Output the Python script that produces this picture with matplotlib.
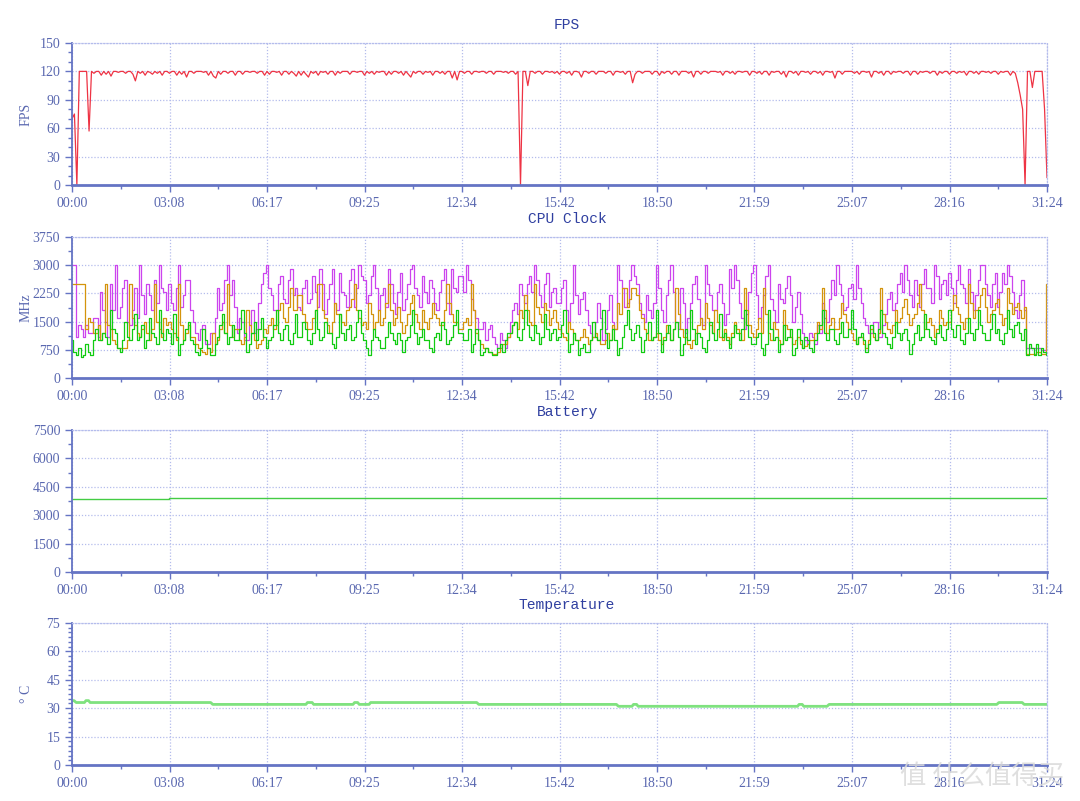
import numpy as np
import matplotlib
matplotlib.use("Agg")
from matplotlib import pyplot as plt
from matplotlib.ticker import MultipleLocator, FixedLocator

# time axis labels (seconds -> mm:ss), run length 31:24
total_s = 1884
tick_labels = ["00:00", "03:08", "06:17", "09:25", "12:34", "15:42",
               "18:50", "21:59", "25:07", "28:16", "31:24"]

# FPS, one sample every 4.71 s (40 per tick interval)
fps = [
    70, 75, 0, 120, 120, 120, 120, 57, 120, 118, 120, 120, 116, 120, 117, 120, 115, 120, 120, 119,
    120, 120, 118, 120, 120, 117, 110, 120, 118, 120, 116, 120, 119, 117, 120, 118, 120, 116, 120, 120,
    118, 120, 120, 116, 120, 117, 120, 114, 120, 120, 118, 120, 120, 120, 119, 120, 116, 120, 115, 113,
    120, 117, 120, 120, 118, 120, 120, 116, 120, 120, 117, 120, 120, 119, 120, 120, 118, 120, 120, 116,
    120, 117, 120, 120, 119, 120, 116, 120, 120, 117, 120, 118, 115, 120, 116, 120, 117, 114, 120, 118,
    120, 116, 120, 119, 120, 117, 120, 120, 116, 120, 118, 120, 120, 120, 117, 120, 120, 119, 120, 120,
    116, 120, 118, 120, 117, 120, 119, 120, 120, 116, 120, 117, 120, 120, 118, 120, 116, 120, 117, 114,
    120, 118, 120, 120, 117, 120, 119, 120, 116, 120, 120, 118, 120, 117, 120, 120, 113, 120, 111, 120,
    120, 118, 120, 120, 117, 120, 120, 119, 120, 120, 118, 120, 120, 117, 120, 120, 120, 119, 120, 118,
    120, 120, 117, 120, 0, 120, 120, 105, 120, 120, 118, 120, 120, 117, 120, 120, 119, 120, 118, 120,
    117, 120, 120, 118, 120, 116, 120, 120, 119, 114, 120, 120, 118, 120, 120, 117, 120, 120, 120, 118,
    120, 120, 116, 120, 120, 119, 120, 117, 120, 120, 108, 117, 120, 120, 118, 120, 120, 120, 117, 120,
    120, 116, 120, 118, 120, 120, 117, 120, 120, 116, 120, 120, 120, 118, 120, 114, 120, 120, 117, 120,
    120, 118, 120, 120, 120, 119, 120, 116, 120, 120, 118, 120, 117, 120, 120, 119, 120, 120, 116, 120,
    120, 118, 120, 117, 120, 120, 116, 120, 119, 120, 120, 117, 120, 114, 120, 120, 118, 120, 116, 120,
    120, 119, 120, 117, 120, 120, 118, 120, 116, 120, 120, 119, 120, 113, 120, 120, 117, 120, 120, 120,
    120, 118, 120, 117, 120, 120, 119, 120, 114, 120, 120, 118, 120, 116, 120, 120, 117, 120, 119, 120,
    120, 118, 120, 120, 116, 120, 120, 117, 120, 119, 120, 120, 118, 120, 120, 116, 120, 118, 120, 120,
    117, 120, 120, 118, 120, 119, 120, 116, 120, 120, 118, 120, 117, 120, 120, 119, 120, 118, 120, 120,
    117, 120, 119, 120, 120, 116, 120, 118, 108, 95, 80, 0, 120, 120, 103, 120, 120, 120, 120, 80,
    8,
]

# CPU clock (MHz), one sample every 4.71 s (40 per tick interval)
cpu_big = [
    3000, 3000, 1100, 1400, 1300, 1100, 1400, 1200, 1200, 1600, 1600, 1100, 2300, 1800, 1500, 1100, 2500, 1800, 3000, 1600,
    1900, 2400, 2600, 1500, 1400, 1800, 2400, 1600, 3000, 2200, 1700, 2500, 2200, 1800, 2600, 2000, 3000, 2400, 2300, 1800,
    2500, 2000, 1800, 2400, 3000, 1900, 2200, 2600, 2600, 1800, 1500, 1200, 1000, 1300, 1400, 900, 900, 1200, 1200, 1600,
    2400, 1800, 2000, 2600, 3000, 2200, 2600, 1900, 1200, 1600, 1500, 1000, 1000, 1400, 1800, 1200, 1300, 2000, 2500, 2800,
    3000, 2400, 2200, 1800, 1800, 2500, 2700, 2100, 2000, 2600, 2900, 2200, 2400, 1900, 1800, 2400, 2600, 2000, 2100, 2700,
    2300, 1900, 2900, 2500, 1700, 2100, 2500, 2900, 2000, 1800, 2800, 2300, 2200, 1900, 2600, 2900, 1900, 2400, 3000, 2700,
    2600, 2000, 2200, 2700, 3000, 2400, 1800, 2200, 2400, 1900, 2900, 2500, 2000, 1700, 2300, 2800, 1800, 2100, 2500, 2900,
    3000, 2400, 2200, 1900, 2700, 2300, 2000, 2600, 2400, 2000, 1800, 2300, 2600, 2900, 2000, 1700, 2900, 2400, 2300, 2700,
    2700, 2300, 3000, 2600, 2100, 1800, 1600, 1300, 1300, 1500, 1000, 1300, 1400, 1100, 900, 800, 1200, 1000, 800, 1100,
    1500, 1800, 2000, 1700, 2500, 2200, 2000, 2500, 2700, 2300, 3000, 2600, 2200, 1900, 2500, 2800, 1900, 2300, 2400, 2000,
    2000, 2400, 2600, 1800, 1500, 2000, 3000, 2200, 1700, 2100, 2300, 1800, 1400, 1200, 1100, 1500, 2000, 1600, 1000, 1300,
    1800, 2200, 1500, 1300, 3000, 2600, 2400, 1900, 2000, 2600, 3000, 2700, 2500, 2000, 1700, 1500, 2200, 1800, 1600, 2000,
    3000, 2400, 1800, 1500, 2200, 2600, 3000, 2300, 1500, 1300, 2400, 2000, 1200, 1600, 2000, 2500, 2700, 2100, 1600, 1400,
    3000, 2500, 2200, 1800, 1800, 2300, 2500, 2000, 1400, 1700, 2900, 2400, 3000, 2600, 2000, 1600, 1300, 1700, 2300, 2800,
    3000, 2200, 1600, 1900, 2200, 2700, 3000, 2100, 1800, 1500, 2500, 2100, 2000, 2400, 2700, 2200, 1500, 1900, 2300, 1700,
    1200, 1000, 900, 1200, 1100, 900, 1400, 1200, 2000, 1600, 1500, 2100, 2600, 2200, 3000, 2500, 2200, 1800, 1900, 2400,
    2500, 2100, 3000, 2400, 2000, 1600, 1400, 1200, 1200, 1500, 1500, 1100, 1100, 1400, 1700, 2100, 2300, 1800, 2000, 2500,
    2800, 2300, 3000, 2600, 2200, 1900, 2600, 2200, 1900, 2500, 2900, 2400, 2400, 2000, 3000, 2700, 2100, 2500, 2600, 2200,
    2800, 2400, 2000, 2600, 3000, 2500, 2400, 2000, 2900, 2300, 1800, 2200, 2600, 3000, 3000, 2500, 2200, 1900, 2500, 2800,
    1900, 2300, 2800, 2500, 3000, 2700, 2300, 1800, 1600, 2200, 2600, 1800, 800, 800, 800, 800, 800, 800, 750, 750,
    1600,
]
cpu_mid = [
    2500, 2500, 2500, 2500, 2500, 2500, 1300, 1600, 1500, 1200, 1200, 1400, 1000, 1200, 2500, 1400, 1300, 1000, 900, 800,
    800, 800, 800, 1000, 2500, 1600, 1400, 1200, 1100, 1300, 1500, 1200, 1000, 1300, 2500, 1500, 1300, 1100, 1600, 1400,
    1500, 1300, 1200, 1000, 2500, 1400, 1000, 1200, 1400, 1100, 1100, 900, 800, 750, 700, 650, 800, 700, 1200, 900,
    1000, 1300, 1500, 1200, 2500, 1400, 1100, 1300, 1300, 1000, 900, 1100, 1800, 1400, 1200, 1000, 800, 900, 1000, 1300,
    1200, 1400, 1600, 1300, 1400, 1800, 2000, 1600, 1500, 1900, 2400, 1800, 1800, 2200, 2200, 1700, 1500, 1300, 1300, 1600,
    1800, 2500, 2500, 1800, 1600, 1400, 1200, 1500, 2000, 1700, 1700, 1500, 1400, 1800, 1900, 2100, 2500, 1800, 1600, 1400,
    1500, 1300, 2000, 1700, 1300, 1500, 1800, 1400, 1600, 2000, 2500, 1800, 1400, 1600, 1900, 1500, 1200, 1400, 1700, 2000,
    2200, 1700, 1500, 1300, 1800, 1500, 1300, 1600, 2000, 1700, 1600, 1400, 1400, 1800, 2500, 2000, 1700, 1500, 1500, 1300,
    1300, 1500, 1600, 1400, 2500, 1800, 1200, 1000, 900, 800, 800, 700, 700, 650, 650, 700, 800, 900, 900, 1100,
    1200, 1400, 1500, 1300, 1800, 1600, 2200, 1800, 1500, 1400, 2500, 1900, 1700, 1500, 2000, 1800, 1400, 1600, 1800, 1500,
    1300, 1200, 1100, 1000, 1500, 1300, 1200, 1000, 1000, 1100, 1300, 1100, 900, 1000, 1100, 1200, 1000, 900, 900, 1000,
    1200, 1000, 1400, 1300, 2000, 1700, 2400, 2400, 1900, 2100, 2400, 2400, 2200, 1800, 1600, 1300, 1200, 1000, 1000, 1100,
    1200, 1000, 900, 1100, 1400, 1200, 1000, 1300, 2400, 1700, 1300, 1100, 1100, 900, 800, 1000, 1200, 1400, 1600, 1300,
    2000, 1600, 1400, 1200, 1800, 1500, 1100, 1000, 1300, 1100, 900, 1200, 1500, 1300, 1200, 1000, 2400, 1800, 1400, 1200,
    1100, 1300, 1600, 1200, 2400, 1700, 1200, 1000, 1500, 1300, 1000, 900, 1800, 1400, 1300, 1100, 900, 1000, 1100, 900,
    800, 850, 900, 1000, 1000, 1200, 1500, 1300, 2400, 1800, 1200, 1400, 1600, 1300, 1300, 1600, 2000, 1700, 1500, 1300,
    1200, 1000, 900, 1100, 1100, 900, 800, 1000, 1300, 1100, 1000, 1200, 2400, 1700, 1500, 1300, 1200, 1400, 1800, 1500,
    1600, 1900, 2100, 1700, 1400, 1600, 1700, 2000, 2500, 1800, 1300, 1500, 1600, 1400, 1100, 1300, 1800, 1600, 1400, 1500,
    1500, 1800, 2200, 1900, 1700, 1500, 1300, 1600, 2500, 2000, 1600, 1800, 1900, 2200, 2400, 1900, 1500, 1700, 1800, 2000,
    2100, 1700, 1400, 1600, 2400, 2000, 1700, 1900, 2000, 1800, 1600, 1900, 650, 650, 650, 650, 700, 700, 650, 650,
    2500,
]
cpu_little = [
    1000, 700, 600, 800, 550, 600, 900, 700, 600, 1000, 1300, 1000, 1000, 1200, 1100, 900, 1800, 1300, 1200, 800,
    700, 1000, 1500, 1100, 1000, 1300, 1700, 1000, 1100, 1400, 800, 1000, 1600, 1200, 1100, 900, 1800, 1200, 1000, 1300,
    1200, 900, 1700, 1100, 600, 900, 1000, 1300, 1500, 1000, 900, 700, 600, 800, 1300, 1000, 800, 600, 600, 900,
    1100, 1400, 1700, 1200, 900, 1100, 1400, 1000, 1000, 1300, 1800, 1200, 700, 900, 1200, 1500, 1000, 1300, 1600, 1100,
    800, 1000, 1100, 1400, 1800, 1200, 1000, 1300, 1400, 1000, 900, 1200, 1700, 1100, 1100, 1500, 1300, 1000, 900, 1200,
    1800, 1300, 1000, 1100, 1500, 1200, 1200, 900, 800, 1100, 1700, 1200, 1000, 1300, 1400, 1000, 1100, 1500, 1800, 1200,
    1000, 800, 600, 1000, 1300, 1100, 1000, 800, 800, 1100, 1500, 1200, 1000, 900, 1200, 1000, 700, 1000, 1100, 1400,
    1800, 1200, 900, 1100, 1300, 1000, 1000, 800, 700, 1100, 1200, 1000, 1500, 1300, 900, 1000, 1100, 1400, 1800, 1200,
    1200, 1000, 1000, 1300, 700, 900, 1300, 1000, 600, 700, 800, 700, 700, 600, 600, 800, 900, 700, 1000, 1200,
    1200, 1400, 1500, 1100, 1000, 1300, 1800, 1400, 1100, 1000, 1400, 1200, 900, 1100, 1700, 1300, 1000, 1200, 1300, 1000,
    1100, 1400, 1800, 1200, 700, 900, 1200, 1000, 600, 800, 900, 700, 700, 1000, 1500, 1100, 1000, 1300, 1800, 1200,
    800, 1000, 1300, 1000, 600, 800, 1100, 1400, 1800, 1300, 1000, 1200, 1400, 1100, 700, 1000, 1200, 1500, 1000, 1100,
    1800, 1200, 700, 1000, 1200, 1400, 1000, 1300, 1500, 1100, 600, 900, 1300, 1000, 1800, 1300, 900, 1200, 1100, 800,
    700, 1000, 1500, 1200, 1000, 1300, 1700, 1100, 1200, 1000, 800, 1100, 1400, 1200, 1000, 1300, 1800, 1400, 1100, 900,
    900, 1100, 1200, 800, 600, 900, 1800, 1300, 1000, 1100, 700, 900, 1400, 1000, 1100, 1300, 600, 800, 1300, 1000,
    800, 1100, 1000, 800, 700, 1000, 1200, 1400, 1800, 1200, 1000, 1300, 1300, 1000, 900, 1200, 1500, 1100, 1100, 1300,
    1800, 1300, 900, 1100, 1200, 1000, 700, 900, 1400, 1200, 1000, 1300, 1800, 1200, 1100, 900, 800, 1100, 1500, 1200,
    1000, 1200, 1300, 1000, 650, 900, 1200, 1400, 1000, 1100, 1700, 1300, 1100, 1000, 900, 1200, 1400, 1100, 1000, 1300,
    1800, 1300, 1100, 1400, 1400, 1000, 900, 1200, 1600, 1200, 1000, 1300, 1800, 1400, 1200, 1000, 1000, 1300, 1700, 1200,
    1300, 1000, 900, 1200, 1800, 1300, 1100, 1400, 1500, 1200, 1000, 1300, 600, 900, 800, 600, 900, 600, 800, 700,
    600,
]

# battery (mV), level changes
bat_t = [0, 30, 188, 1100, 1884]
bat_v = [3880, 3880, 3920, 3900, 3900]

# temperature (C)
temp_t = [0, 4, 8, 24, 27, 32, 35, 268, 272, 452, 455, 464, 467, 543, 546, 552, 555, 574, 577,
          782, 786, 1052, 1056, 1082, 1085, 1091, 1094, 1402, 1405, 1411, 1414, 1459, 1463,
          1787, 1791, 1836, 1840, 1884]
temp_v = [34, 34, 33, 33, 34, 34, 33, 33, 32, 32, 33, 33, 32, 32, 33, 33, 32, 32, 33,
          33, 32, 32, 31, 31, 32, 32, 31, 31, 32, 32, 31, 31, 32,
          32, 33, 33, 32, 32]

axis_col = "#6574c4"
grid_col = "#b4bcec"
text_col = "#5a68b0"
title_col = "#2f3fa0"

fig = plt.figure(figsize=(10.8, 8.01), dpi=100)
W, H = 1080, 801


def make_ax(top, bottom, ymax, ystep, yminor, title, ylabel):
    ax = fig.add_axes([72 / W, 1 - bottom / H, 975 / W, (bottom - top) / H])
    ax.set_xlim(0, total_s)
    ax.set_ylim(0, ymax)
    ax.xaxis.set_major_locator(FixedLocator(np.linspace(0, total_s, 11)))
    ax.xaxis.set_minor_locator(FixedLocator(np.linspace(0, total_s, 21)))
    ax.set_xticklabels(tick_labels)
    ax.yaxis.set_major_locator(MultipleLocator(ystep))
    ax.yaxis.set_minor_locator(MultipleLocator(yminor))
    ax.grid(True, which="major", color=grid_col, linestyle=(0, (1, 1.5)), linewidth=0.9)
    for s in ["top", "right"]:
        ax.spines[s].set_color(grid_col)
        ax.spines[s].set_linestyle((0, (1, 1.5)))
        ax.spines[s].set_linewidth(0.9)
    ax.spines["left"].set_color(axis_col)
    ax.spines["left"].set_linewidth(1.3)
    ax.spines["bottom"].set_color(axis_col)
    ax.spines["bottom"].set_linewidth(2)
    ax.tick_params(axis="both", which="major", colors=axis_col, length=5, width=1,
                   labelcolor=text_col, labelsize=10)
    ax.tick_params(axis="both", which="minor", colors=axis_col, length=3, width=1)
    for lab in ax.get_xticklabels() + ax.get_yticklabels():
        lab.set_family("Liberation Serif")
    fig.text(567 / W, 1 - (top - 18) / H, title, ha="center", va="center",
             family="Liberation Mono", fontsize=10.5, color=title_col)
    if ylabel:
        ax.set_ylabel(ylabel, family="Liberation Serif", fontsize=10, color=text_col)
        ax.yaxis.set_label_coords(-0.040, 0.5)
    return ax


ax1 = make_ax(43, 185, 150, 30, 10, "FPS", "FPS")
t_fps = np.linspace(0, total_s, len(fps))
ax1.plot(t_fps, fps, color="#ee3344", linewidth=0.9)

ax2 = make_ax(237, 378, 3750, 750, 375, "CPU Clock", "MHz")
ax2.plot(np.linspace(0, total_s, len(cpu_big)), cpu_big, color="#cc44ee",
         linewidth=0.9, drawstyle="steps-mid")
ax2.plot(np.linspace(0, total_s, len(cpu_mid)), cpu_mid, color="#d4940c",
         linewidth=0.9, drawstyle="steps-mid")
ax2.plot(np.linspace(0, total_s, len(cpu_little)), cpu_little, color="#11cc11",
         linewidth=0.9, drawstyle="steps-mid")

ax3 = make_ax(430, 572, 7500, 1500, 750, "Battery", None)
ax3.plot(bat_t, bat_v, color="#44cc44", linewidth=1, drawstyle="steps-post")

ax4 = make_ax(623, 765, 75, 15, 2.5, "Temperature", "° C")
ax4.plot(temp_t, temp_v, color="#7fe27f", linewidth=2)

# site watermark
fig.text(1064 / W, 1 - 776 / H, "值 什么值得买", ha="right", va="center",
         family=["Noto Sans CJK SC", "DejaVu Sans"], fontsize=19, color="#dadada", alpha=0.85)

fig.savefig("out.png", dpi=100)
